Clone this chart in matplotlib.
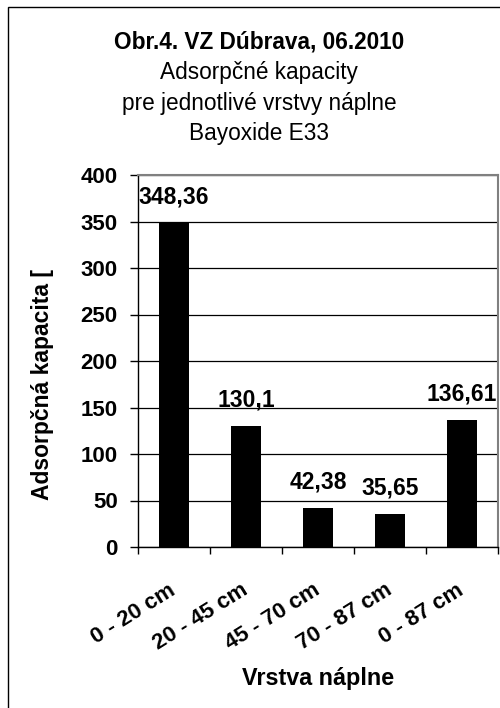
import matplotlib
matplotlib.use("Agg")
import matplotlib.pyplot as plt
from matplotlib.patches import Rectangle

categories = ["0 - 20 cm", "20 - 45 cm", "45 - 70 cm", "70 - 87 cm", "0 - 87 cm"]
values = [348.36, 130.1, 42.38, 35.65, 136.61]
value_labels = ["348,36", "130,1", "42,38", "35,65", "136,61"]
yticks = [0, 50, 100, 150, 200, 250, 300, 350, 400]
title_lines = ["Obr.4. VZ Dúbrava, 06.2010", "Adsorpčné kapacity",
               "pre jednotlivé vrstvy náplne", "Bayoxide E33"]
xlabel = "Vrstva náplne"
ylabel = "Adsorpčná kapacita ["

plt.rcParams['font.family'] = ['Liberation Sans', 'DejaVu Sans']

W, H = 500, 708
fig = plt.figure(figsize=(W / 100, H / 100), dpi=100)

def px(x, y):
    return x / W, 1 - y / H

# outer border
fig.patches.append(Rectangle((8 / W, -0.1), 1.2, 1 - 7 / H + 0.1, transform=fig.transFigure,
                             fill=False, edgecolor='black', linewidth=1.0))

left, right, top, bottom = 138, 498, 175, 547
ax = fig.add_axes([left / W, 1 - bottom / H, (right - left) / W, (bottom - top) / H])

x = list(range(len(categories)))
ax.bar(x, values, width=0.42, color='black', zorder=3)
ax.set_xlim(-0.5, len(categories) - 0.5)
ax.set_ylim(0, 400)
ax.set_yticks(yticks)
ax.set_yticklabels([str(v) for v in yticks], fontsize=16, fontweight='bold')
ax.yaxis.grid(True, color='black', linewidth=0.9, zorder=1)
ax.set_axisbelow(True)

for s in ['top', 'right']:
    ax.spines[s].set_color('#808080')
    ax.spines[s].set_linewidth(1.5)
for s in ['left', 'bottom']:
    ax.spines[s].set_color('black')
    ax.spines[s].set_linewidth(1.0)

ax.tick_params(axis='y', direction='out', length=6, width=1, pad=8.5)
ax.set_xticks(x)
ax.set_xticklabels(categories, fontsize=16, fontweight='bold', rotation=32,
                   ha='right', va='center', rotation_mode='anchor')
ax.tick_params(axis='x', which='major', length=0, pad=30)
ax.set_xticks([i - 0.5 for i in range(len(categories) + 1)], minor=True)
ax.tick_params(axis='x', which='minor', direction='out', length=5, width=1)

for xi, v, lab in zip(x, values, value_labels):
    ax.annotate(lab, (xi, v), xytext=(0, 18.5), textcoords='offset points',
                ha='center', va='center', fontsize=16.5, fontweight='bold', zorder=4)

baselines = [48, 79, 110, 140]
for i, (line, yb) in enumerate(zip(title_lines, baselines)):
    fig.text(*px(259, yb), line, ha='center', va='baseline', fontsize=16.3,
             fontweight='bold' if i == 0 else 'normal')

fig.text(*px(318, 679), xlabel, ha='center', va='center', fontsize=16.8, fontweight='bold')
fig.text(*px(43, 384), ylabel, ha='center', va='center', fontsize=16.5, fontweight='bold',
         rotation=90)

fig.savefig("out.png", dpi=100)
